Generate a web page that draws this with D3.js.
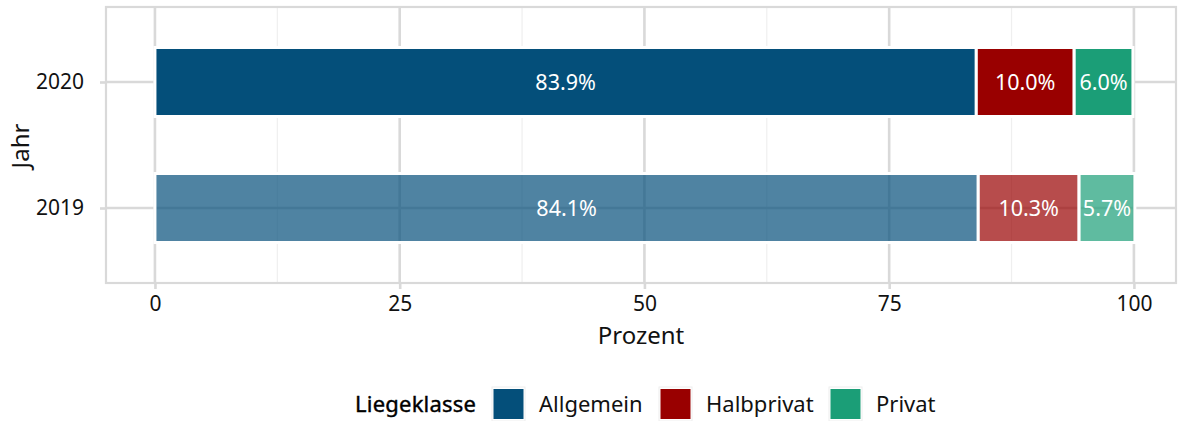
<!DOCTYPE html>
<html>
<head>
<meta charset="utf-8">
<script src="https://cdn.jsdelivr.net/npm/d3@7"></script>
<style>
  body { margin: 0; background: #fff; }
  svg text { font-family: "Noto Sans", sans-serif; }
</style>
</head>
<body>
<div id="chart"></div>
<script>
(() => {
    const years = ['2020', '2019'];
    const classes = ['Allgemein', 'Halbprivat', 'Privat'];
    const values2020 = [83.9, 10.0, 6.0];
    const values2019 = [84.1, 10.3, 5.7];
    const xTicks = [0, 25, 50, 75, 100];
    const xMinor = [12.5, 37.5, 62.5, 87.5];
    const colors = ['#044f7a', '#990000', '#1b9e77'];

    const W = 1178, H = 421;
    const panel = {left: 106, right: 1176, top: 7, bottom: 283};
    const gridCol = '#d9d9d9';

    let svg = d3.select('#chart')
        .append('svg')
        .attr('width', W)
        .attr('height', H);

    // x: 0 sits at 155px, 100 at 1134px
    let x = d3.scaleLinear()
        .domain([-5, 104.3])
        .range([panel.left, panel.right]);

    let y = d3.scalePoint()
        .domain(years)
        .range([82, 208]);

    let color = d3.scaleOrdinal().domain(classes).range(colors);

    // grid
    let grid = svg.append('g');
    xMinor.forEach(v => {
        grid.append('line')
            .attr('x1', x(v)).attr('x2', x(v))
            .attr('y1', panel.top).attr('y2', panel.bottom)
            .attr('stroke', '#efefef').attr('stroke-width', 1.2);
    });
    xTicks.forEach(v => {
        grid.append('line')
            .attr('x1', x(v)).attr('x2', x(v))
            .attr('y1', panel.top).attr('y2', panel.bottom)
            .attr('stroke', gridCol).attr('stroke-width', 2.6);
    });
    years.forEach(yr => {
        grid.append('line')
            .attr('x1', panel.left).attr('x2', panel.right)
            .attr('y1', y(yr)).attr('y2', y(yr))
            .attr('stroke', gridCol).attr('stroke-width', 2.6);
    });

    // stacked bars
    let rows = [
        {year: '2020', vals: values2020, alpha: 1},
        {year: '2019', vals: values2019, alpha: 0.7}
    ];
    let barH = 69;
    rows.forEach(r => {
        let start = 0;
        let segs = r.vals.map((v, i) => {
            let s = {cls: classes[i], x0: start, x1: start + v, v: v};
            start += v;
            return s;
        });
        let g = svg.append('g');
        g.selectAll('rect')
            .data(segs)
            .enter()
            .append('rect')
            .attr('x', d => x(d.x0))
            .attr('width', d => x(d.x1) - x(d.x0))
            .attr('y', y(r.year) - barH / 2)
            .attr('height', barH)
            .attr('fill', d => color(d.cls))
            .attr('fill-opacity', r.alpha)
            .attr('stroke', '#fff')
            .attr('stroke-width', 3);
        g.selectAll('text')
            .data(segs)
            .enter()
            .append('text')
            .attr('x', d => x((d.x0 + d.x1) / 2))
            .attr('y', y(r.year))
            .attr('dy', '0.36em')
            .attr('text-anchor', 'middle')
            .attr('fill', '#fff')
            .style('font-size', '21.5px')
            .text(d => d.v.toFixed(1) + '%');
    });

    // panel border
    svg.append('rect')
        .attr('x', panel.left).attr('y', panel.top)
        .attr('width', panel.right - panel.left)
        .attr('height', panel.bottom - panel.top)
        .attr('fill', 'none')
        .attr('stroke', gridCol).attr('stroke-width', 2.2);

    // axes
    let xAxis = svg.append('g')
        .attr('transform', `translate(0,${panel.bottom})`)
        .call(d3.axisBottom(x).tickValues(xTicks).tickSize(6).tickPadding(7).tickFormat(d3.format('d')));
    let yAxis = svg.append('g')
        .attr('transform', `translate(${panel.left},0)`)
        .call(d3.axisLeft(y).tickSize(6).tickPadding(16));
    [xAxis, yAxis].forEach(a => {
        a.select('.domain').remove();
        a.selectAll('.tick line').attr('stroke', gridCol).attr('stroke-width', 2.6);
        a.selectAll('.tick text').attr('fill', '#111').style('font-size', '21px');
    });

    svg.append('text')
        .attr('x', 641).attr('y', 335)
        .attr('dy', '0.36em')
        .attr('text-anchor', 'middle')
        .attr('fill', '#111')
        .style('font-size', '24px')
        .text('Prozent');
    svg.append('text')
        .attr('transform', 'translate(20,146) rotate(-90)')
        .attr('dy', '0.36em')
        .attr('text-anchor', 'middle')
        .attr('fill', '#111')
        .style('font-size', '24px')
        .text('Jahr');

    // legend
    let legend = svg.append('g');
    legend.append('text')
        .attr('x', 355).attr('y', 404)
        .attr('dy', '0.36em')
        .attr('fill', '#000')
        .attr('stroke', '#000')
        .attr('stroke-width', 0.4)
        .style('font-size', '22px')
        .attr('textLength', 121)
        .text('Liegeklasse');
    let keyX = [492, 659, 829];
    classes.forEach((c, i) => {
        legend.append('rect')
            .attr('x', keyX[i]).attr('y', 387)
            .attr('width', 33).attr('height', 34)
            .attr('fill', '#fff').attr('stroke', '#eeeeee').attr('stroke-width', 1);
        legend.append('rect')
            .attr('x', keyX[i] + 1.5).attr('y', 389)
            .attr('width', 30).attr('height', 30)
            .attr('fill', color(c));
        legend.append('text')
            .attr('x', keyX[i] + 47).attr('y', 404)
            .attr('dy', '0.36em')
            .attr('fill', '#111')
            .style('font-size', '22px')
            .text(c);
    });
})();
</script>
</body>
</html>
